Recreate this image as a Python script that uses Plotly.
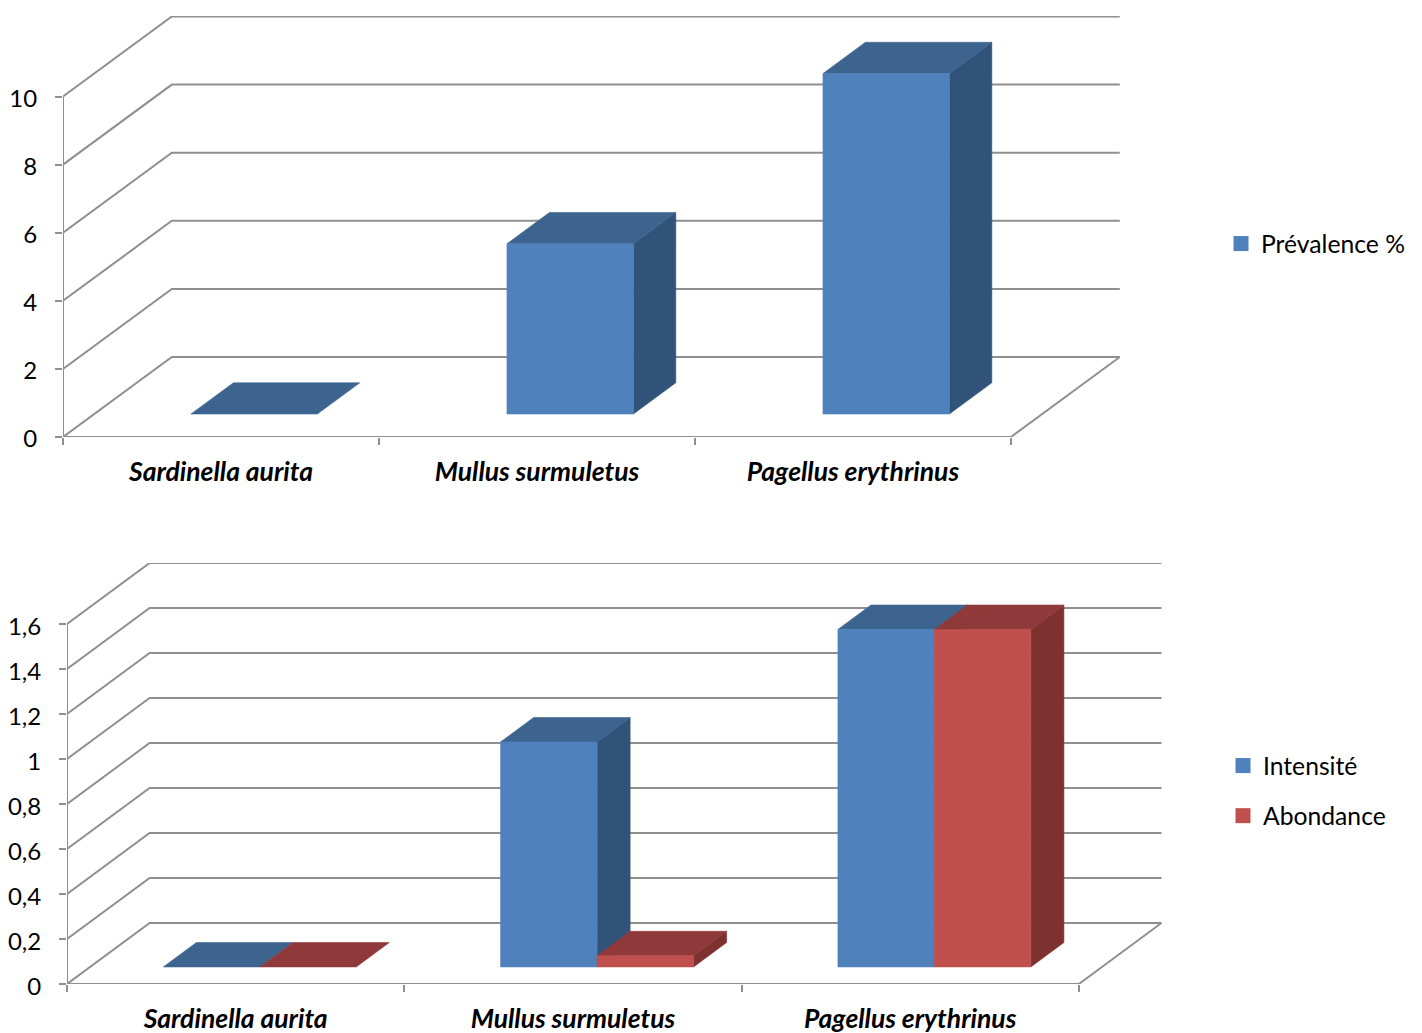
import plotly.graph_objects as go

W, H = 1422, 1033
FONT = "Lato"
AXIS_GREY = "#8f8f8f"

CATEGORIES = ["Sardinella aurita", "Mullus surmuletus", "Pagellus erythrinus"]

PREVALENCE = [0, 5, 10]
INTENSITE = [0, 1, 1.5]
ABONDANCE = [0, 0.05, 1.5]

TICKS_TOP = [0, 2, 4, 6, 8, 10]
TICKTEXT_TOP = ["0", "2", "4", "6", "8", "10"]
TICKS_BOTTOM = [0, 0.2, 0.4, 0.6, 0.8, 1, 1.2, 1.4, 1.6]
TICKTEXT_BOTTOM = ["0", "0,2", "0,4", "0,6", "0,8", "1", "1,2", "1,4", "1,6"]

BLUE = dict(front="#4F81BD", top="#3D648F", side="#325379")
RED = dict(front="#C0504D", top="#90393A", side="#7D3230")

fig = go.Figure()


def poly(xs, ys, color, ax):
    fig.add_trace(go.Scatter(x=xs, y=ys, mode="lines", fill="toself", fillcolor=color,
                             line=dict(width=0.6, color=color), hoverinfo="skip",
                             showlegend=False, cliponaxis=False, xaxis=ax[0], yaxis=ax[1]))


def line(xs, ys, ax):
    fig.add_trace(go.Scatter(x=xs, y=ys, mode="lines", line=dict(width=2, color=AXIS_GREY),
                             hoverinfo="skip", showlegend=False, cliponaxis=False,
                             xaxis=ax[0], yaxis=ax[1]))


def bar3d(x0, width, value, base_d, depth_d, DX, DY, colors, ax):
    """x0 = left edge of the front face on the floor's front line (category units)."""
    sx, sy = base_d * DX, base_d * DY
    ox, oy = depth_d * DX, depth_d * DY
    l, r = x0 + sx, x0 + width + sx
    b, t = sy, sy + value
    if value > 0:
        poly([r, r + ox, r + ox, r, r], [b, b + oy, t + oy, t, b], colors["side"], ax)
    poly([l, r, r + ox, l + ox, l], [t, t, t + oy, t + oy, t], colors["top"], ax)
    if value > 0:
        poly([l, r, r, l, l], [b, b, t, t, b], colors["front"], ax)


def panel(ax, ticks, DX, DY):
    n = len(CATEGORIES)
    for v in ticks:
        line([0, DX, n + DX], [v, v + DY, v + DY], ax)
    line([0, 0], [ticks[0], ticks[-1]], ax)
    line([0, n, n + DX], [0, 0, DY], ax)


# ---- top chart: pixel frame x 63..1120, y 16..437
X0a, X1a, Ya_top, Ya_bot = 63, 1120, 16, 437
UXa = 316.0
UYa = 34.05
DXa, DYa = 108.8 / UXa, 80.0 / UYa
axa = ("x", "y")
panel(axa, TICKS_TOP, DXa, DYa)
for i, v in enumerate(PREVALENCE):
    bar3d(i + 0.306, 0.400, v, 0.2875, 0.39, DXa, DYa, BLUE, axa)

# ---- bottom chart: pixel frame x 67..1162, y 563..984
X0b, X1b, Yb_top, Yb_bot = 67, 1162, 563, 984
UXb = 337.3
UYb = 225.0
DXb, DYb = 82.6 / UXb, 61.0 / UYb
axb = ("x2", "y2")
panel(axb, TICKS_BOTTOM, DXb, DYb)
for i, (a, b) in enumerate(zip(INTENSITE, ABONDANCE)):
    bar3d(i + 0.217, 0.286, a, 0.28, 0.40, DXb, DYb, BLUE, axb)
    bar3d(i + 0.217 + 0.286, 0.286, b, 0.28, 0.40, DXb, DYb, RED, axb)

# ---- legend entries
for name, col, lg, grp in [("Prévalence %", BLUE["front"], "legend", "a"),
                           ("Intensité", BLUE["front"], "legend2", "b"),
                           ("Abondance", RED["front"], "legend2", "c")]:
    fig.add_trace(go.Scatter(x=[None], y=[None], mode="markers", name=name, legend=lg,
                             legendgroup=grp,
                             marker=dict(symbol="square", size=15, color=col)))


def xaxis(x0, x1, ux, anchor, standoff):
    return dict(domain=[x0 / W, x1 / W], range=[0, (x1 - x0) / ux], anchor=anchor, automargin=False,
                tickmode="array", tickvals=[0.5, 1.5, 2.5], ticktext=[f"<b><i>{c}</i></b>" for c in CATEGORIES],
                ticks="", showgrid=False, zeroline=False, showline=False,
                tickfont=dict(family=FONT, size=26.5, color="#000"), ticklabelstandoff=standoff,
                minor=dict(tickmode="array", tickvals=[0, 1, 2, 3], ticks="outside", ticklen=7,
                           tickwidth=2, tickcolor=AXIS_GREY, showgrid=False))


def yaxis(t, b, uy, anchor, ticks, text, shift):
    return dict(domain=[1 - b / H, 1 - t / H], range=[0, (b - t) / uy], anchor=anchor, automargin=False,
                tickmode="array", tickvals=ticks, ticktext=text, ticks="outside", ticklen=7,
                tickwidth=2, tickcolor=AXIS_GREY, showgrid=False, zeroline=False, showline=False,
                ticklabelstandoff=13, ticklabelshift=shift, tickfont=dict(family=FONT, size=24, color="#000"))


def legend_box(x, y, gap=10):
    return dict(x=x / W, y=1 - y / H, xanchor="left", yanchor="middle", bgcolor="rgba(0,0,0,0)",
                font=dict(family=FONT, size=24.7, color="#000"), tracegroupgap=gap,
                itemsizing="trace")


fig.update_layout(
    width=W, height=H, margin=dict(l=0, r=0, t=0, b=0), paper_bgcolor="#fff", plot_bgcolor="#fff",
    showlegend=True,
    xaxis=xaxis(X0a, X1a, UXa, "y", 16),
    yaxis=yaxis(Ya_top, Ya_bot, UYa, "x", TICKS_TOP, TICKTEXT_TOP, 2),
    xaxis2=xaxis(X0b, X1b, UXb, "y2", 16),
    yaxis2=yaxis(Yb_top, Yb_bot, UYb, "x2", TICKS_BOTTOM, TICKTEXT_BOTTOM, 3),
    legend=legend_box(1221, 244),
    legend2=legend_box(1223, 791, gap=15),
)

fig.write_html("out.html", config=dict(displayModeBar=False),
               post_script="document.body.style.margin='0';")
